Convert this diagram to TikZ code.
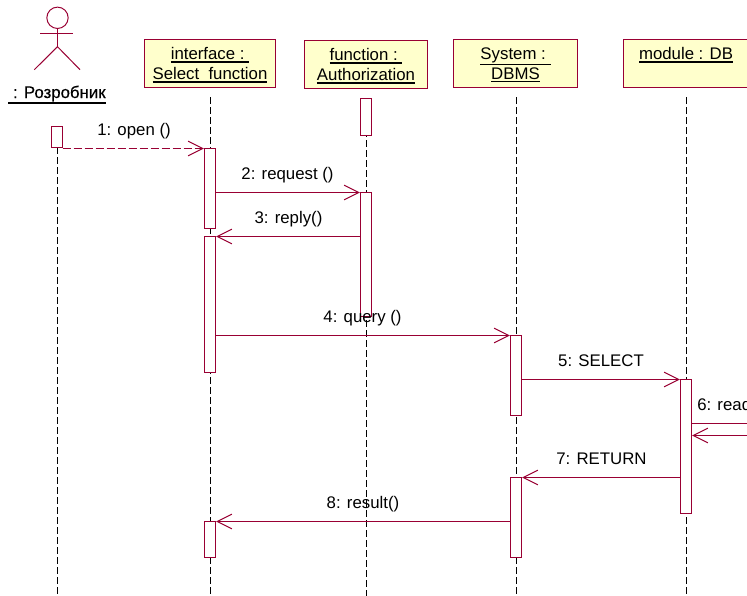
\documentclass[tikz,border=0pt]{standalone}
\usepackage{fontspec}
\setmainfont{Liberation Sans}
\newfontfamily\fakebold[FakeBold=0.5]{Liberation Sans}
\usetikzlibrary{arrows.meta}
\definecolor{rose}{HTML}{990033}
\definecolor{boxfill}{HTML}{FFFFCC}
\tikzset{
  x=0.75pt,y=-0.75pt,
  umlline/.style={draw=rose,line width=0.75pt},
  msg/.style={umlline,-{Straight Barb[length=11pt,width=11pt,line width=0.75pt]},shorten >=0.5pt},
  plainmsg/.style={umlline},
  lifeline/.style={draw=black,line width=0.65pt,dash pattern=on 5.25pt off 2.25pt},
  lbl/.style={font=\fontsize{12.6}{15}\selectfont,inner sep=0pt,text=black},
  msglbl/.style={lbl,anchor=base},
  act/.style={draw=rose,fill=white,line width=0.75pt,anchor=north west,inner sep=0pt,outer sep=0pt,
    minimum width=8.25pt}
}
\newcommand{\ul}[1]{\leavevmode\vtop{\hbox{#1}\kern0.7pt\hrule height 1.1pt}}
\newcommand{\objrect}[6]{%
  \node[draw=rose,fill=boxfill,line width=0.75pt,anchor=north west,inner sep=0pt,outer sep=0pt,
    minimum width=#4*0.75pt,minimum height=#5*0.75pt] (#1) at (#2,#3) {};
  \node[lbl,align=center,anchor=north] (#1t) at (#1.north) [yshift=-6pt] {#6};}
\begin{document}
\begin{tikzpicture}
\useasboundingbox (0,0) rectangle (747,596);
\clip (0,0) rectangle (747,596);
\fill[white] (0,0) rectangle (747,596);
% actor
\node[draw=rose,line width=0.75pt,circle,minimum size=16pt,inner sep=0pt,outer sep=0pt] (head) at (57.5,17.8) {};
\coordinate (neck) at (57.5,28.3);
\coordinate (hip) at (57.5,46.7);
\coordinate (armL) at (40.3,33.5);
\coordinate (armR) at (73.3,33.5);
\coordinate (legL) at (34.3,69.7);
\coordinate (legR) at (80,69.7);
\draw[umlline] (neck) -- (hip);
\draw[umlline] (armL) -- (armR);
\draw[umlline] (legL) -- (hip) -- (legR);
\node[lbl,anchor=base] (actorname) at (57,98) {\fakebold\ul{~: Розробник}};
% objects
\objrect{o1}{144.5}{39.5}{131}{48}{\ul{interface :~}\\\ul{Select~~function}}
\objrect{o2}{304.5}{40.5}{123}{48}{\ul{function :~}\\\ul{Authorization}}
\objrect{o3}{453.5}{39.5}{124}{48}{\ul{System :~}\\\ul{DBMS}}
\objrect{o4}{623.5}{39.5}{125}{48}{\ul{module : DB}}
% lifelines
\coordinate (l0t) at (57.5,147); \coordinate (l0b) at (57.5,596);
\coordinate (l1t) at (210.5,97); \coordinate (l1b) at (210.5,596);
\coordinate (l2t) at (366.5,100); \coordinate (l2b) at (366.5,596);
\coordinate (l3t) at (516.5,97); \coordinate (l3b) at (516.5,596);
\coordinate (l4t) at (686.5,97); \coordinate (l4b) at (686.5,596);
\draw[lifeline] (l0t) -- (l0b);
\draw[lifeline] (l1t) -- (l1b);
\draw[lifeline] (l2t) -- (l2b);
\draw[lifeline] (l3t) -- (l3b);
\draw[lifeline] (l4t) -- (l4b);
% activations
\node[act,minimum height=21*0.75pt] (a0) at (51.5,126.5) {};
\node[act,minimum height=80*0.75pt] (a1) at (204.5,148.5) {};
\node[act,minimum height=136*0.75pt] (a2) at (204.5,236.5) {};
\node[act,minimum height=36*0.75pt] (a3) at (204.5,521.5) {};
\node[act,minimum height=37*0.75pt] (f1) at (360.5,98.5) {};
\node[act,minimum height=124*0.75pt] (f2) at (360.5,192.5) {};
\node[act,minimum height=80*0.75pt] (s1) at (510.5,335.5) {};
\node[act,minimum height=80*0.75pt] (s2) at (510.5,477.5) {};
\node[act,minimum height=134*0.75pt] (m1) at (680.5,379.5) {};
% messages
\coordinate (off1) at (747,423.5);
\coordinate (off2) at (747,435.5);
\draw[msg,dash pattern=on 6pt off 2.25pt] (a0.east |- a1.north) -- (a1.north west);
\draw[msg] (a1.east |- f2.north) -- (f2.north west);
\draw[msg] (f2.west |- a2.north) -- (a2.north east);
\draw[msg] (a2.east |- s1.north) -- (s1.north west);
\draw[msg] (s1.east |- m1.north) -- (m1.north west);
\draw[plainmsg] (m1.east |- off1) -- (off1);
\draw[msg] (off2) -- (m1.east |- off2);
\draw[msg] (m1.west |- s2.north) -- (s2.north east);
\draw[msg] (s2.west |- a3.north) -- (a3.north east);
% labels
\node[msglbl] (t1) at (134,135) {1: open ()};
\node[msglbl] (t2) at (287.5,179) {2: request ()};
\node[msglbl] (t3) at (288.5,223) {3: reply()};
\node[msglbl] (t4) at (362.5,322) {4: query ()};
\node[msglbl] (t5) at (601,366) {5: SELECT};
\node[lbl,anchor=base west] (t6) at (697,410) {6: read};
\node[msglbl] (t7) at (601.5,464) {7: RETURN};
\node[msglbl] (t8) at (363,508) {8: result()};
\end{tikzpicture}
\end{document}
